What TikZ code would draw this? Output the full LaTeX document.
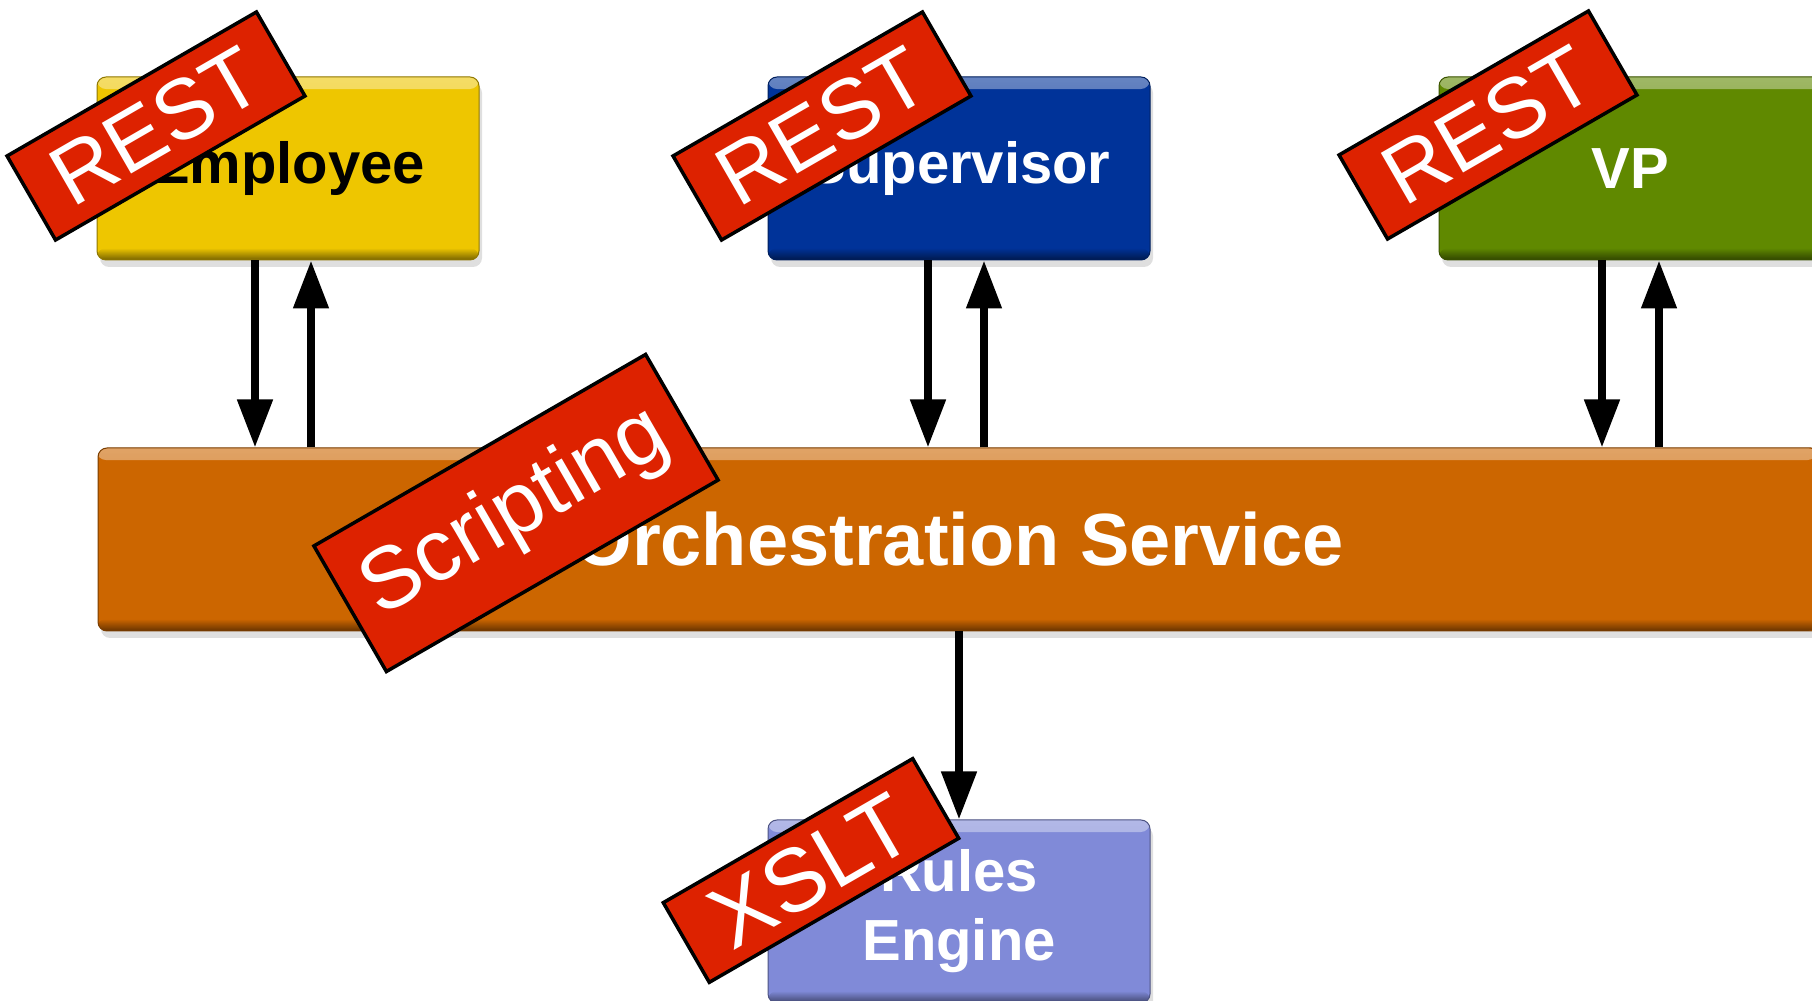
\documentclass[tikz,border=0pt]{standalone}
\usepackage{fontspec}
\setmainfont{Liberation Sans}
\usetikzlibrary{arrows.meta, positioning, shadows, fadings}

\definecolor{empyellow}{RGB}{238,198,0}
\definecolor{supblue}{RGB}{0,51,153}
\definecolor{vpgreen}{RGB}{96,137,0}
\definecolor{orchorange}{RGB}{204,102,0}
\definecolor{rulesviolet}{RGB}{128,138,216}
\definecolor{tagred}{RGB}{221,34,0}

\tikzstyle{box} = [rectangle, rounded corners=9pt, minimum width=382pt, minimum height=183pt, inner sep=0pt, text centered, line width=1pt, font=\bfseries\fontsize{58}{69}\selectfont, drop shadow={shadow xshift=3pt, shadow yshift=-7pt, opacity=.25},
  path picture={
    \fill[white, opacity=.4, path fading=south] (path picture bounding box.north west) rectangle ([yshift=-12pt]path picture bounding box.north east);
    \fill[black, opacity=.5, path fading=north] (path picture bounding box.south west) rectangle ([yshift=12pt]path picture bounding box.south east);
  }]
\tikzstyle{tag} = [rectangle, rotate=30, fill=tagred, draw=black, line width=3.5pt, text=white, minimum width=288pt, minimum height=97pt, inner sep=0pt, font=\fontsize{85}{85}\selectfont]
\tikzstyle{arrow} = [line width=8pt, -{Triangle[length=48pt, width=34pt]}]

\begin{document}
\begin{tikzpicture}[x=1pt, y=1pt]
  \clip (0,0) rectangle (1812,1001);

  % Clients on top
  \node (employee) [box, fill=empyellow, draw=empyellow!60!black, text=black] at (288,832.5) {Employee};
  \node (supervisor) [box, fill=supblue, draw=supblue!60!black, text=white, right=288pt of employee] {Supervisor};
  \node (vp) [box, fill=vpgreen, draw=vpgreen!60!black, text=white, right=288pt of supervisor] {VP};

  % Service and engine
  \node (orch) [box, fill=orchorange, draw=orchorange!60!black, text=white, minimum width=1722pt, font=\bfseries\fontsize{74}{80}\selectfont, below=187pt of supervisor] {Orchestration Service};
  \node (rules) [box, fill=rulesviolet, draw=rulesviolet!60!black, text=white, align=center, below=188pt of orch] {Rules\\Engine};

  % Requests and replies
  \draw [arrow] ([xshift=-33pt]employee.south) -- ([xshift=-33pt]employee.south |- orch.north);
  \draw [arrow] ([xshift=23pt]employee.south |- orch.north) -- ([xshift=23pt]employee.south);
  \draw [arrow] ([xshift=-31pt]supervisor.south) -- ([xshift=-31pt]supervisor.south |- orch.north);
  \draw [arrow] ([xshift=25pt]supervisor.south |- orch.north) -- ([xshift=25pt]supervisor.south);
  \draw [arrow] ([xshift=-28pt]vp.south) -- ([xshift=-28pt]vp.south |- orch.north);
  \draw [arrow] ([xshift=29pt]vp.south |- orch.north) -- ([xshift=29pt]vp.south);

  % Down to the rules engine
  \draw [arrow] (orch.south) -- (rules.north);

  % Tags
  \node (restemp) [tag] at ([shift={(-132,42.5)}]employee.center) {REST};
  \node (restsup) [tag] at ([shift={(-137,42.5)}]supervisor.center) {REST};
  \node (restvp) [tag] at ([shift={(-142,43.5)}]vp.center) {REST};
  \node (scripting) [tag, minimum width=383pt, minimum height=145pt, font=\fontsize{87}{87}\selectfont] at ([shift={(-443,26.5)}]orch.center) {Scripting};
  \node (xslt) [tag, minimum height=92pt, font=\fontsize{89}{89}\selectfont] at ([shift={(-148,41)}]rules.center) {XSLT};

\end{tikzpicture}
\end{document}
